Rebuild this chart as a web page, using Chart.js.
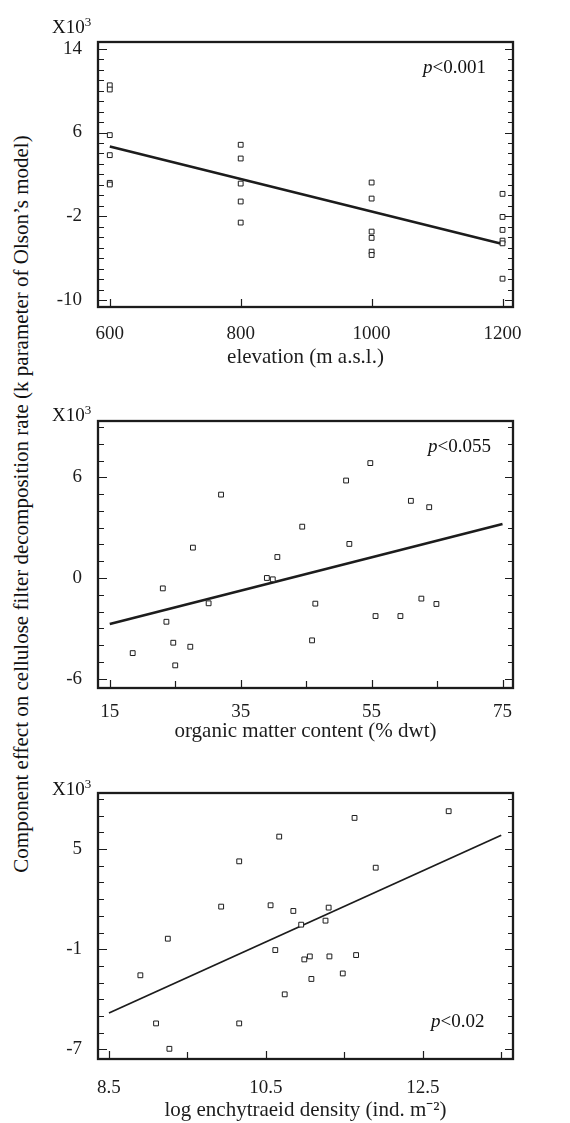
<!DOCTYPE html>
<html>
<head>
<meta charset="utf-8">
<script src="https://cdn.jsdelivr.net/npm/chart.js@4.4.0/dist/chart.umd.min.js"></script>
<style>
    body { margin: 0; background: #fff; width: 570px; height: 1123px; position: relative; overflow: hidden;
           font-family: 'Liberation Serif', 'Times New Roman', serif; color: #111; }
    canvas { position: absolute; left: 0; }
    .txt { position: absolute; font-size: 19px; line-height: 1; white-space: nowrap; }
    .txt sup { font-size: 13px; position: relative; top: -2px; vertical-align: top; }
    .ytitle { position: absolute; left: 21px; top: 504px; font-size: 21px; line-height: 1; white-space: nowrap;
              transform: translate(-50%, -50%) rotate(-90deg); }
</style>
</head>
<body>

<div class="ytitle">Component effect on cellulose filter decomposition rate (k parameter of Olson’s model)</div>

<canvas id="c1" width="570" height="370" style="top:0px"></canvas>
<canvas id="c2" width="570" height="372" style="top:372px"></canvas>
<canvas id="c3" width="570" height="373" style="top:750px"></canvas>

<div class="txt" style="left:52px;top:17px">X10<sup>3</sup></div>
<div class="txt" style="left:52px;top:405px">X10<sup>3</sup></div>
<div class="txt" style="left:52px;top:779px">X10<sup>3</sup></div>

<div class="txt" style="left:423px;top:57px"><i>p</i>&lt;0.001</div>
<div class="txt" style="left:428px;top:436px"><i>p</i>&lt;0.055</div>
<div class="txt" style="left:431px;top:1011px"><i>p</i>&lt;0.02</div>

<script>
    "use strict";

    // Elevation panel
    var elevX = [600, 600, 600, 600, 600, 600, 800, 800, 800, 800, 800,
                 1000, 1000, 1000, 1000, 1000, 1000, 1200, 1200, 1200, 1200, 1200, 1200];
    var elevY = [10.5, 10.1, 5.75, 3.84, 1.2, 1.04, 4.83, 3.52, 1.13, -0.58, -2.59,
                 1.23, -0.3, -3.45, -4.05, -5.36, -5.68, 0.15, -2.05, -3.29, -4.31, -4.57, -7.94];
    var elevFitX = [600, 1200];
    var elevFitY = [4.67, -4.63];
    var elevXTicks = [600, 800, 1000, 1200];
    var elevYTicks = [14, 6, -2, -10];

    // Organic matter panel
    var omX = [18.5, 23.1, 23.65, 24.7, 25.0, 27.3, 27.7, 30.1, 32.0, 39.0, 39.9, 40.6,
               44.4, 45.9, 46.4, 51.1, 51.6, 54.8, 55.6, 59.4, 61.0, 62.6, 63.8, 64.9];
    var omY = [-4.48, -0.62, -2.61, -3.86, -5.21, -4.1, 1.81, -1.51, 4.97, 0, -0.08, 1.25,
               3.06, -3.72, -1.53, 5.81, 2.03, 6.85, -2.27, -2.27, 4.6, -1.23, 4.22, -1.55];
    var omFitX = [15, 75];
    var omFitY = [-2.75, 3.22];
    var omXTicks = [15, 35, 55, 75];
    var omXMinor = [25, 45, 65];
    var omYTicks = [6, 0, -6];

    // Enchytraeid density panel
    var encX = [8.9, 9.1, 9.25, 9.27, 9.93, 10.16, 10.16, 10.56, 10.62, 10.67, 10.74, 10.85,
                10.95, 10.99, 11.06, 11.08, 11.26, 11.3, 11.31, 11.48, 11.63, 11.65, 11.9, 12.83];
    var encY = [-2.56, -5.44, -0.37, -6.96, 1.55, 4.26, -5.44, 1.63, -1.05, 5.74, -3.7, 1.29,
                0.47, -1.61, -1.43, -2.78, 0.71, 1.49, -1.43, -2.45, 6.86, -1.35, 3.88, 7.26];
    var encFitX = [8.5, 13.5];
    var encFitY = [-4.82, 5.82];
    var encXTicks = [8.5, 10.5, 12.5];
    var encXMinor = [9.5, 11.5, 13.5];
    var encYTicks = [5, -1, -7];

    var ink = '#1c1c1c';
    var serif = "'Liberation Serif', 'Times New Roman', serif";

    function toPoints(xs, ys) {
        return xs.map(function (x, i) { return {x: x, y: ys[i]}; });
    }

    function range(a, b) {
        var out = [];
        for (var v = a; v <= b; v++) out.push(v);
        return out;
    }

    // frame and inward tick marks
    var frameTicks = {
        id: 'frameTicks',
        afterDraw: function (chart) {
            var ctx = chart.ctx, a = chart.chartArea;
            var xs = chart.scales.x, ys = chart.scales.y;
            var opts = chart.options.plugins.frameTicks;
            ctx.save();
            ctx.strokeStyle = ink;
            ctx.lineWidth = 1.2;
            ctx.beginPath();
            ys.ticks.forEach(function (t) {
                var y = Math.round(ys.getPixelForValue(t.value)) + 0.5;
                var major = opts.yMajor.indexOf(t.value) >= 0;
                ctx.moveTo(a.left, y); ctx.lineTo(a.left + (major ? 9 : 6), y);
                ctx.moveTo(a.right, y); ctx.lineTo(a.right - (major ? 8 : 5), y);
            });
            xs.ticks.forEach(function (t) {
                var x = Math.round(xs.getPixelForValue(t.value)) + 0.5;
                var major = opts.xMajor.indexOf(t.value) >= 0;
                ctx.moveTo(x, a.bottom); ctx.lineTo(x, a.bottom - (major ? 8 : 7));
            });
            ctx.stroke();
            ctx.lineWidth = 2.3;
            ctx.strokeRect(a.left, a.top, a.right - a.left, a.bottom - a.top);
            ctx.restore();
        }
    };

    function makePanel(id, p) {
        var ctx = document.getElementById(id).getContext('2d');
        return new Chart(ctx, {
            type: 'scatter',
            data: {
                datasets: [{
                    data: toPoints(p.x, p.y),
                    pointStyle: 'rect',
                    pointRadius: 3.4,
                    pointBorderWidth: 1,
                    borderColor: ink,
                    backgroundColor: '#fff'
                }, {
                    data: toPoints(p.fitX, p.fitY),
                    showLine: true,
                    pointRadius: 0,
                    borderColor: ink,
                    borderWidth: p.lineWidth
                }]
            },
            plugins: [frameTicks],
            options: {
                responsive: false,
                animation: false,
                devicePixelRatio: 1,
                layout: {padding: {top: p.padTop, right: 57, left: 0, bottom: 0}},
                plugins: {
                    legend: {display: false},
                    tooltip: {enabled: false},
                    frameTicks: {xMajor: p.xTicks, yMajor: p.yTicks}
                },
                scales: {
                    x: {
                        type: 'linear',
                        min: p.xMin, max: p.xMax,
                        grid: {display: false},
                        border: {display: false},
                        afterBuildTicks: function (scale) {
                            scale.ticks = p.xTicks.concat(p.xMinor || []).sort(function (a, b) { return a - b; })
                                .map(function (v) { return {value: v}; });
                        },
                        afterFit: function (scale) { scale.height = p.axisH; },
                        ticks: {
                            autoSkip: false,
                            maxRotation: 0,
                            padding: p.xPad,
                            color: ink,
                            font: {family: serif, size: 19},
                            callback: function (v) { return p.xTicks.indexOf(v) >= 0 ? String(v) : ''; }
                        },
                        title: {
                            display: true,
                            text: p.xTitle,
                            color: ink,
                            padding: 0,
                            font: {family: serif, size: 21}
                        }
                    },
                    y: {
                        type: 'linear',
                        min: p.yMin, max: p.yMax,
                        grid: {display: false},
                        border: {display: false},
                        afterBuildTicks: function (scale) {
                            scale.ticks = range(p.yLo, p.yHi).map(function (v) { return {value: v}; });
                        },
                        afterFit: function (scale) { scale.width = 98; },
                        ticks: {
                            autoSkip: false,
                            padding: 8,
                            color: ink,
                            font: {family: serif, size: 19},
                            callback: function (v) { return p.yTicks.indexOf(v) >= 0 ? String(v) : ''; }
                        }
                    }
                }
            }
        });
    }

    makePanel('c1', {
        x: elevX, y: elevY, fitX: elevFitX, fitY: elevFitY, lineWidth: 2.6,
        xTicks: elevXTicks, yTicks: elevYTicks,
        xMin: 582, xMax: 1216, yMin: -10.64, yMax: 14.63, yLo: -10, yHi: 14,
        padTop: 42, axisH: 63, xPad: 8, xTitle: 'elevation (m a.s.l.)'
    });

    makePanel('c2', {
        x: omX, y: omY, fitX: omFitX, fitY: omFitY, lineWidth: 2.6,
        xTicks: omXTicks, xMinor: omXMinor, yTicks: omYTicks,
        xMin: 13.2, xMax: 76.6, yMin: -6.56, yMax: 9.36, yLo: -6, yHi: 9,
        padTop: 49, axisH: 56, xPad: 5, xTitle: 'organic matter content (% dwt)'
    });

    makePanel('c3', {
        x: encX, y: encY, fitX: encFitX, fitY: encFitY, lineWidth: 1.8,
        xTicks: encXTicks, xMinor: encXMinor, yTicks: encYTicks,
        xMin: 8.36, xMax: 13.65, yMin: -7.57, yMax: 8.35, yLo: -7, yHi: 8,
        padTop: 43, axisH: 64, xPad: 10, xTitle: ['log enchytraeid density (ind. m\u207B\u00B2)']
    });
</script>
</body>
</html>
